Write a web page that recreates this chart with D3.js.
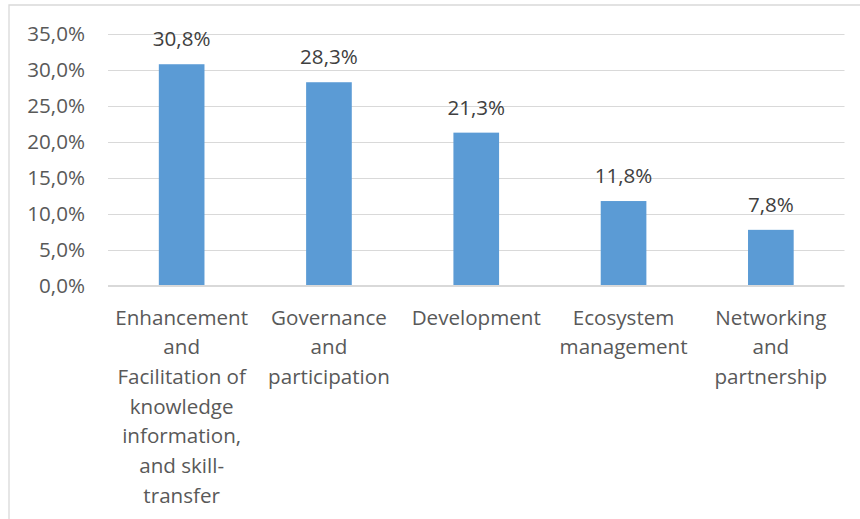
<!DOCTYPE html>
<html>
<head>
<meta charset="utf-8">
<script src="https://cdn.jsdelivr.net/npm/d3@7"></script>
<style>
  html, body { margin: 0; padding: 0; background: #fff; }
  svg { display: block; }
  text { font-family: "Open Sans", sans-serif; }
</style>
</head>
<body>
<svg id="chart"></svg>
<script>
// Chart data
const categories = [
    "Enhancement and Facilitation of knowledge information, and skill-transfer",
    "Governance and participation",
    "Development",
    "Ecosystem management",
    "Networking and partnership"
];
// wrapped lines as they appear under each bar
const categoryLines = [
    ["Enhancement", "and", "Facilitation of", "knowledge", "information,", "and skill-", "transfer"],
    ["Governance", "and", "participation"],
    ["Development"],
    ["Ecosystem", "management"],
    ["Networking", "and", "partnership"]
];
const values = [30.8, 28.3, 21.3, 11.8, 7.8];
const yTicks = [0, 5, 10, 15, 20, 25, 30, 35];

const width = 860, height = 519;
const plot = { left: 108, right: 844.5, top: 34, bottom: 286 };

const svg = d3.select("#chart")
    .attr("width", width)
    .attr("height", height);

// chart area border (only left and top visible in the crop)
svg.append("path")
    .attr("d", "M9,519 V5 H860")
    .attr("fill", "none")
    .attr("stroke", "#d9d9d9")
    .attr("stroke-width", 1.3);

const x = d3.scaleBand()
    .domain(categories)
    .range([plot.left, plot.right])
    .padding(0);

const y = d3.scaleLinear()
    .domain([0, 35])
    .range([plot.bottom, plot.top]);

const barWidth = x.bandwidth() * 0.31;
const fmt = v => v.toFixed(1).replace(".", ",") + "%";

// gridlines
svg.append("g")
    .selectAll("line")
    .data(yTicks.filter(d => d > 0))
    .enter()
    .append("line")
    .attr("x1", plot.left)
    .attr("x2", plot.right)
    .attr("y1", d => Math.round(y(d)) + 0.5)
    .attr("y2", d => Math.round(y(d)) + 0.5)
    .attr("stroke", "#d9d9d9")
    .attr("stroke-width", 1);

// y tick labels
svg.append("g")
    .selectAll("text")
    .data(yTicks)
    .enter()
    .append("text")
    .attr("x", 85)
    .attr("y", d => y(d))
    .attr("dy", "0.36em")
    .attr("text-anchor", "end")
    .attr("fill", "#595959")
    .attr("font-size", 20.6)
    .text(d => fmt(d));

// bars
svg.append("g")
    .selectAll("rect")
    .data(values)
    .enter()
    .append("rect")
    .attr("x", (d, i) => x(categories[i]) + (x.bandwidth() - barWidth) / 2)
    .attr("y", d => y(d))
    .attr("width", barWidth)
    .attr("height", d => y(0) - y(d))
    .attr("fill", "#5b9bd5");

// x axis line
svg.append("line")
    .attr("x1", plot.left)
    .attr("x2", plot.right)
    .attr("y1", y(0))
    .attr("y2", y(0))
    .attr("stroke", "#d9d9d9")
    .attr("stroke-width", 2);

// value labels
svg.append("g")
    .selectAll("text")
    .data(values)
    .enter()
    .append("text")
    .attr("x", (d, i) => x(categories[i]) + x.bandwidth() / 2)
    .attr("y", d => y(d) - 18)
    .attr("text-anchor", "middle")
    .attr("fill", "#404040")
    .attr("font-size", 20.6)
    .text(d => fmt(d));

// category labels
const catGroups = svg.append("g")
    .selectAll("text")
    .data(categoryLines)
    .enter()
    .append("text")
    .attr("text-anchor", "middle")
    .attr("fill", "#595959")
    .attr("font-size", 20.6)
    .attr("transform", (d, i) => "translate(" + (x(categories[i]) + x.bandwidth() / 2) + ",324.5)");

catGroups.selectAll("tspan")
    .data(d => d)
    .enter()
    .append("tspan")
    .attr("x", 0)
    .attr("y", (d, i) => i * 29.7)
    .text(d => d);
</script>
</body>
</html>
